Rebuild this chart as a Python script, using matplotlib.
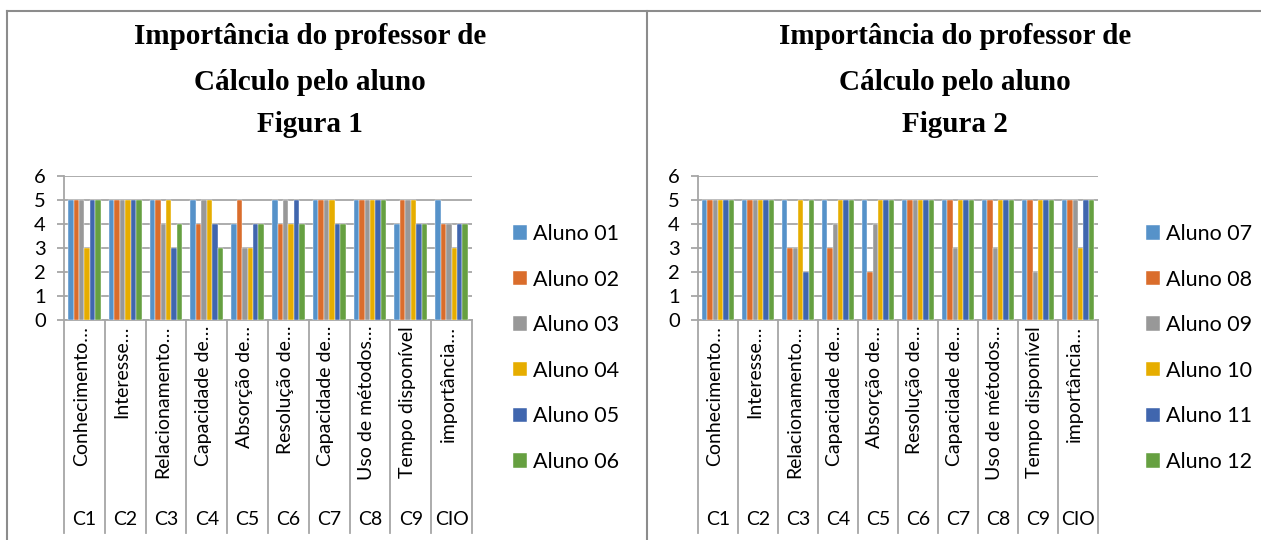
import numpy as np
import matplotlib
matplotlib.use("Agg")
import matplotlib.pyplot as plt
from matplotlib.lines import Line2D

# criteria (short labels as they appear truncated on the axis)
criterios = ["Conhecimento…", "Interesse…", "Relacionamento…", "Capacidade de…",
             "Absorção de…", "Resolução de…", "Capacidade de…", "Uso de métodos…",
             "Tempo disponível", "importância…"]
codigos = ["C1", "C2", "C3", "C4", "C5", "C6", "C7", "C8", "C9", "CIO"]

# Figura 1 - notes per student
alunos_1 = ["Aluno 01", "Aluno 02", "Aluno 03", "Aluno 04", "Aluno 05", "Aluno 06"]
aluno01 = [5, 5, 5, 5, 4, 5, 5, 5, 4, 5]
aluno02 = [5, 5, 5, 4, 5, 4, 5, 5, 5, 4]
aluno03 = [5, 5, 4, 5, 3, 5, 5, 5, 5, 4]
aluno04 = [3, 5, 5, 5, 3, 4, 5, 5, 5, 3]
aluno05 = [5, 5, 3, 4, 4, 5, 4, 5, 4, 4]
aluno06 = [5, 5, 4, 3, 4, 4, 4, 5, 4, 4]

# Figura 2
alunos_2 = ["Aluno 07", "Aluno 08", "Aluno 09", "Aluno 10", "Aluno 11", "Aluno 12"]
aluno07 = [5, 5, 5, 5, 5, 5, 5, 5, 5, 5]
aluno08 = [5, 5, 3, 3, 2, 5, 5, 5, 5, 5]
aluno09 = [5, 5, 3, 4, 4, 5, 3, 3, 2, 5]
aluno10 = [5, 5, 5, 5, 5, 5, 5, 5, 5, 3]
aluno11 = [5, 5, 2, 5, 5, 5, 5, 5, 5, 5]
aluno12 = [5, 5, 5, 5, 5, 5, 5, 5, 5, 5]

cores = ["#5692C9", "#DA6D2C", "#989898", "#E6AD00", "#4066AE", "#66A041"]
grade = "#A6A6A6"

W, H = 1261, 540
fig = plt.figure(figsize=(W / 100, H / 100), dpi=100)
fonte = ["Lato", "DejaVu Sans"]


def px_box(x0, y0, x1, y1):
    return [x0 / W, 1 - y1 / H, (x1 - x0) / W, (y1 - y0) / H]


def grafico(x0, x1, cx, figura, series, nomes, leg_x):
    # title, three centred lines
    for yy, linha in zip([37, 83, 125], ["Importância do professor de",
                                         "Cálculo pelo aluno", figura]):
        fig.text(cx / W, 1 - yy / H, linha, ha="center", va="center",
                 family="Liberation Serif", weight="bold", fontsize=21)

    ax = fig.add_axes(px_box(x0, 176, x1, 320))
    n = len(series)
    larg = 1.0 / (n + 1.5)
    x = np.arange(len(codigos))
    for k, (vals, nome) in enumerate(zip(series, nomes)):
        ax.bar(x + (k - (n - 1) / 2) * larg, vals, width=larg, color=cores[k],
               edgecolor="white", linewidth=0.3, label=nome, zorder=3)

    ax.set_xlim(-0.5, len(codigos) - 0.5)
    ax.set_ylim(0, 6)
    ax.set_yticks(range(7))
    ax.set_yticklabels([str(v) for v in range(7)], family=fonte, fontsize=14.5)
    ax.set_xticks([])
    ax.grid(axis="y", color=grade, linewidth=1.3, zorder=0)
    for s in ["top", "right"]:
        ax.spines[s].set_visible(False)
    for s in ["left", "bottom"]:
        ax.spines[s].set_color(grade)
        ax.spines[s].set_linewidth(1.3)
    ax.tick_params(axis="y", length=5, width=1.3, color=grade, pad=8)

    # category boxes below the axis
    tr = ax.get_xaxis_transform()
    baixo = -(533 - 320) / 144
    for b in np.arange(len(codigos) + 1) - 0.5:
        ax.add_line(Line2D([b, b], [0, baixo], transform=tr, color=grade,
                           linewidth=1.3, clip_on=False))
    for i, (nome, cod) in enumerate(zip(criterios, codigos)):
        ax.text(i - 0.08, -6 / 144, nome, transform=tr, rotation=90,
                ha="center", va="top", family=fonte, fontsize=14)
        ax.text(i, -(520 - 320) / 144, cod, transform=tr, ha="center",
                va="center", family=fonte, fontsize=14)

    fig.legend(*ax.get_legend_handles_labels(), loc="upper left",
               bbox_to_anchor=(leg_x / W, 1 - 224 / H), frameon=False,
               prop={"family": fonte, "size": 15.5}, labelspacing=1.19,
               handlelength=0.65, handleheight=0.65, handletextpad=0.3,
               borderpad=0, borderaxespad=0)


grafico(64, 472, 310, "Figura 1",
        [aluno01, aluno02, aluno03, aluno04, aluno05, aluno06], alunos_1, 513)
grafico(698, 1098, 955, "Figura 2",
        [aluno07, aluno08, aluno09, aluno10, aluno11, aluno12], alunos_2, 1146)

# outer frame of the two panels
for xs, ys in [([7, W], [11, 11]), ([7, 7], [11, H]), ([647, 647], [11, H])]:
    fig.add_artist(Line2D([v / W for v in xs], [1 - v / H for v in ys],
                          color="#8C8C8C", linewidth=1.5))

fig.savefig("out.png", dpi=100)
